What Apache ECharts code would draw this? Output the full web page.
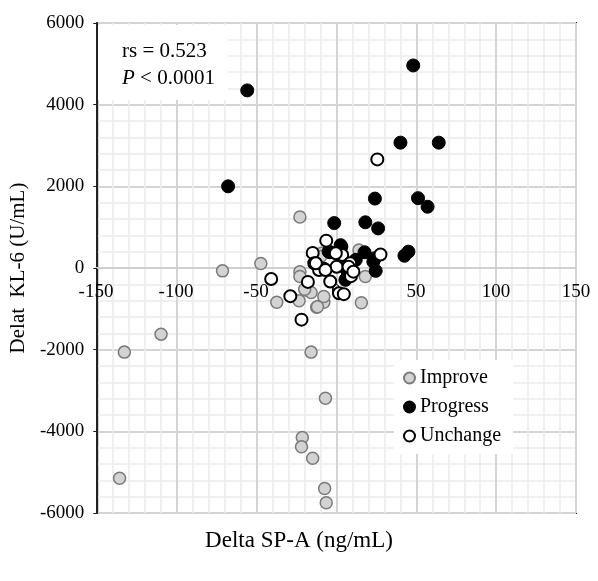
<!DOCTYPE html>
<html>
<head>
<meta charset="utf-8">
<script src="https://cdn.jsdelivr.net/npm/echarts@6/dist/echarts.min.js"></script>
<style>html,body{margin:0;padding:0;background:#fff;}#c{width:598px;height:581px;}</style>
</head>
<body>
<div id="c"></div>
<script>
// Delta SP-A (ng/mL), Delta KL-6 (U/mL)
const improve = [
  [-47.5,110],[-71.5,-70],[-23,-90],[-37.5,-840],[-23.5,-800],[-19.5,-540],[-16,-600],
  [-12.5,-960],[-8,-840],[-8,-700],[-9.5,360],[-110,-1620],[-133,-2060],[-16,-2060],
  [-7,-3190],[-21.5,-4150],[-22,-4380],[-15,-4660],[-136,-5150],[-7.5,-5400],[-6.5,-5750],
  [-23,1250],[15.5,-850],[18,-210],[14,440],[-10,280],[-20,-520],[-23,-210],[-12,-950]
];
const progress = [
  [-56,4350],[-68,2000],[48,4960],[40,3070],[64,3070],[24,1700],[51,1710],[57,1500],
  [-1.5,1100],[18,1120],[26,970],[45,400],[42.5,300],[17.5,385],[24.5,-70],[3,520],
  [12,200],[-4,385],[24,240],[5.5,-290],[7,-180],[2.5,560],[-5,400],[23,155],[3.5,50]
];
const unchange = [
  [25.5,2660],[-6.5,670],[-15,370],[3.5,320],[27.5,330],[-14,115],[-8,-20],[0,30],
  [8.5,115],[9,-200],[-18,-340],[-4,-330],[1.5,-620],[4.5,-640],[-29,-690],[-22,-1265],
  [-41,-270],[-11,-50],[-13,115],[-0.5,360],[7.5,30],[10.5,-90],[-7,-50]
];
const seriesNames = ['Improve','Progress','Unchange'];
const xTitle = 'Delta SP-A (ng/mL)';
const yTitle = 'Delat  KL-6 (U/mL)';

const serif = '"Liberation Serif", "Times New Roman", serif';
const X_MIN = -150, X_MAX = 150, X_INT = 50;
const Y_MIN = -6000, Y_MAX = 6000, Y_INT = 2000;
const chart = echarts.init(document.getElementById('c'));
chart.setOption({
  animation: false,
  backgroundColor: '#fff',
  textStyle: { fontFamily: serif },
  title: {
    text: xTitle, left: 'center', top: 524,
    textStyle: { fontFamily: serif, fontSize: 23, fontWeight: 'normal', color: '#000' }
  },
  grid: [
    { left: 96, right: 22, top: 23, bottom: 68, show: true, borderColor: '#222', borderWidth: 2, backgroundColor: 'transparent' },
    // upper half grid: its bottom edge is the y = 0 line, used to place x tick labels there
    { left: 96, right: 22, top: 23, bottom: 581 - 268, show: false }
  ],
  xAxis: [{
    type: 'value', min: X_MIN, max: X_MAX, interval: X_INT, gridIndex: 0,
    axisLine: { show: false },
    axisTick: { show: false },
    axisLabel: { show: false },
    splitLine: { lineStyle: { color: '#d4d4d4', width: 2 } },
    minorTick: { show: false, splitNumber: 5 },
    minorSplitLine: { show: true, lineStyle: { color: '#ececec', width: 1.5 } }
  }, {
    type: 'value', min: X_MIN, max: X_MAX, interval: X_INT, gridIndex: 1, position: 'bottom',
    axisLine: { show: true, onZero: false, lineStyle: { color: '#cfcfcf', width: 2 } },
    axisTick: { show: false },
    axisLabel: { color: '#000', fontSize: 19, fontFamily: serif, margin: 15, formatter: v => String(v) },
    splitLine: { show: false }
  }],
  yAxis: [{
    type: 'value', min: Y_MIN, max: Y_MAX, interval: Y_INT, gridIndex: 0,
    name: yTitle, nameLocation: 'middle', nameGap: 63,
    nameTextStyle: { fontFamily: serif, fontSize: 21, color: '#000' },
    axisLine: { onZero: false, show: true, lineStyle: { color: '#222', width: 2 } },
    axisTick: { show: true, inside: false, length: 4, lineStyle: { color: '#222' } },
    axisLabel: { color: '#000', fontSize: 19, fontFamily: serif, margin: 13, formatter: v => String(v) },
    splitLine: { lineStyle: { color: '#d4d4d4', width: 2 } },
    minorTick: { show: false, splitNumber: 5 },
    minorSplitLine: { show: true, lineStyle: { color: '#ececec', width: 1.5 } }
  }, {
    type: 'value', min: 0, max: Y_MAX, gridIndex: 1, show: false
  }],
  legend: {
    orient: 'vertical', left: 394, top: 360,
    backgroundColor: '#fff', padding: [8, 12, 8, 9], itemGap: 9,
    itemWidth: 11, itemHeight: 11,
    textStyle: { fontFamily: serif, fontSize: 20, color: '#000' },
    data: seriesNames.map(n => ({ name: n, icon: 'circle' }))
  },
  graphic: [
    { type: 'rect', left: 98, top: 25, z: 100, shape: { width: 130, height: 75 }, style: { fill: '#fff' } },
    { type: 'text', left: 122, top: 41, z: 101, style: { text: 'rs = 0.523', font: '21px ' + serif, fill: '#000' } },
    { type: 'text', left: 122, top: 68, z: 101, style: { text: '{i|P} < 0.0001', font: '21px ' + serif, fill: '#000',
        rich: { i: { fontStyle: 'italic', fontSize: 21, fontFamily: serif } } } }
  ],
  series: [
    { name: seriesNames[0], type: 'scatter', data: improve, symbol: 'circle', symbolSize: 12,
      itemStyle: { color: '#d3d3d3', borderColor: '#7a7a7a', borderWidth: 1.5, opacity: 1 }, z: 3 },
    { name: seriesNames[1], type: 'scatter', data: progress, symbol: 'circle', symbolSize: 13,
      itemStyle: { color: '#000', borderColor: '#000', borderWidth: 1, opacity: 1 }, z: 4 },
    { name: seriesNames[2], type: 'scatter', data: unchange, symbol: 'circle', symbolSize: 12,
      itemStyle: { color: '#fff', borderColor: '#000', borderWidth: 2, opacity: 1 }, z: 5 }
  ]
});
</script>
</body>
</html>
